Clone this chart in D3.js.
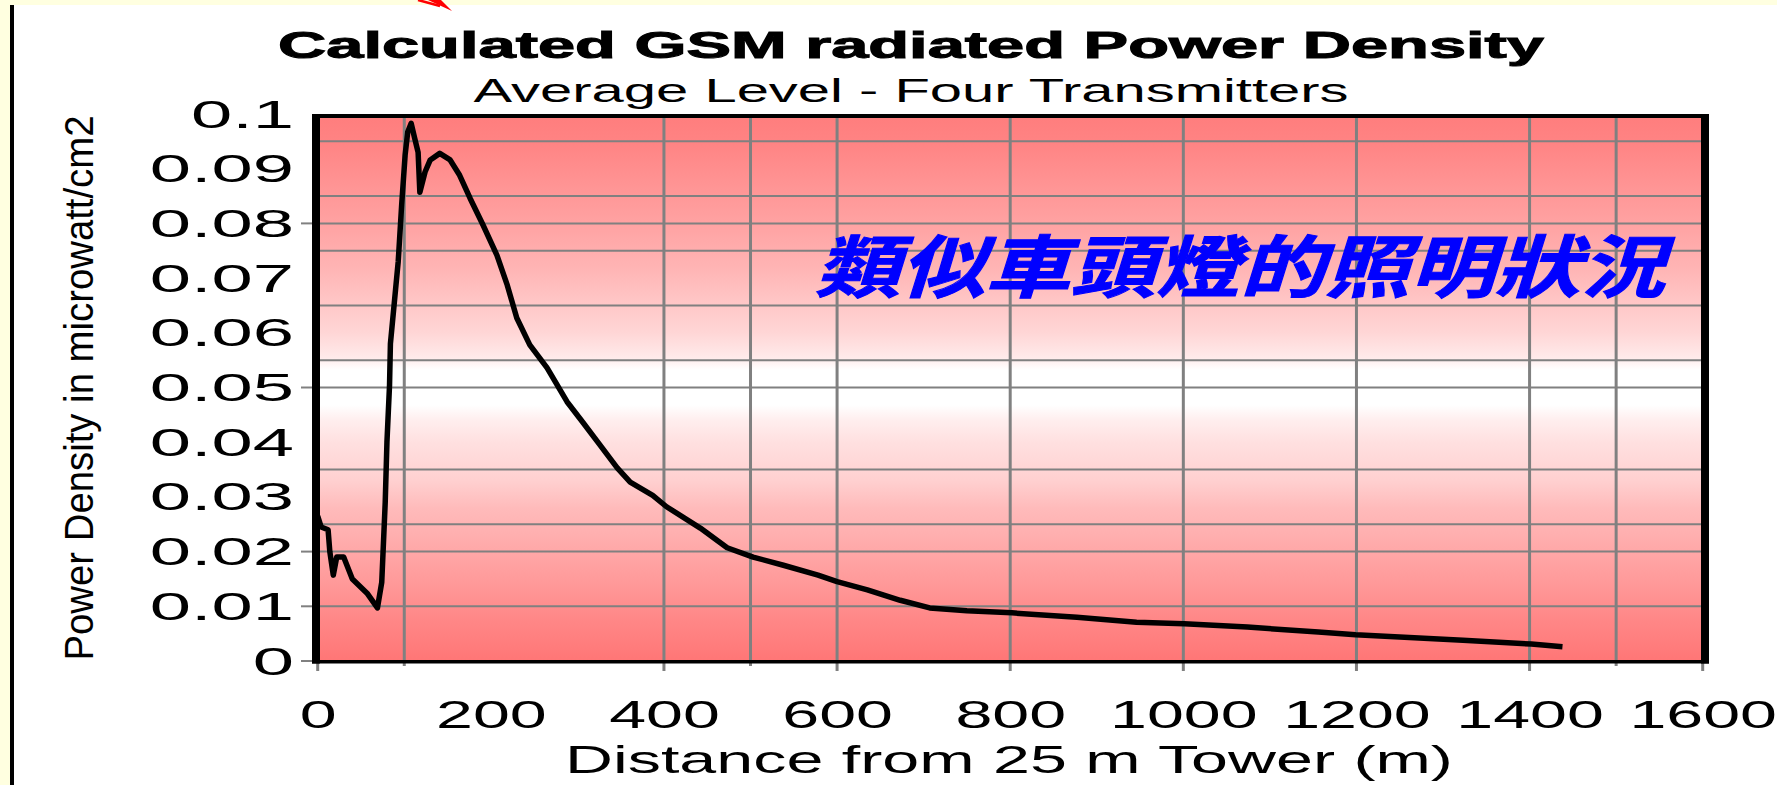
<!DOCTYPE html>
<html><head><meta charset="utf-8">
<script src="https://cdn.jsdelivr.net/npm/d3@7"></script>
<style>html,body{margin:0;padding:0;background:#fff;overflow:hidden}</style>
</head><body><svg id="c" width="1777" height="785"></svg>
<script>
// ---------- data ----------
const distances = [0,4,12,14,18,22,30,40,57,69,74,78,80,83,84,90,93,97,101,104,108,112,116,118,124,130,141,153,164,176,191,207,219,230,245,265,288,306,326,346,361,387,403,442,473,503,538,578,600,635,673,707,750,802,877,946,1001,1074,1156,1199,1323,1402,1438];
const density = [0.0265,0.0245,0.024,0.020,0.0157,0.019,0.019,0.015,0.0124,0.0097,0.0144,0.029,0.040,0.0505,0.058,0.068,0.073,0.0834,0.0925,0.0967,0.0983,0.0956,0.093,0.0857,0.0894,0.0916,0.0928,0.0916,0.0888,0.0846,0.0797,0.0742,0.0687,0.0627,0.0578,0.0536,0.0474,0.0437,0.0395,0.0353,0.0327,0.0303,0.0282,0.0243,0.0207,0.019,0.0175,0.0157,0.0145,0.013,0.0111,0.0097,0.0092,0.0088,0.008,0.0071,0.0068,0.0062,0.0053,0.0048,0.0038,0.0031,0.0026];
const xTicks = [0,200,400,600,800,1000,1200,1400,1600];
const yTicks = [0,0.01,0.02,0.03,0.04,0.05,0.06,0.07,0.08,0.09,0.1];
const yTickLabels = ["0","0.01","0.02","0.03","0.04","0.05","0.06","0.07","0.08","0.09","0.1"];
const xGridValues = [100,400,500,600,800,1000,1200,1400,1500];
const yGridValues = [0.095,0.085,0.08,0.075,0.065,0.055,0.05,0.035,0.025,0.02,0.01];
const xLongTicks = [0,400,600,800,1000,1200,1400,1600];
const xShortTicks = [100,500,1500];
const yLongTicks = [0.08,0.05,0.02,0.01];
const titleText = "Calculated GSM radiated Power Density";
const subtitleText = "Average Level - Four Transmitters";
const xTitleText = "Distance from 25 m Tower (m)";
const yTitleText = "Power Density in microwatt/cm2";
const noteText = "類似車頭燈的照明狀況";

// ---------- layout ----------
const svg = d3.select("#c");
const x = d3.scaleLinear().domain([0,1600]).range([317.7,1702.7]);
const y = d3.scaleLinear().domain([0,0.1]).range([661,114]);
const FONT = "'Liberation Sans', Arial, sans-serif";

// page background
svg.append("rect").attr("width",1777).attr("height",785).attr("fill","#ffffff");
svg.append("rect").attr("x",0).attr("y",0).attr("width",1777).attr("height",5).attr("fill","#ffffe0");
svg.append("rect").attr("x",0).attr("y",0).attr("width",10).attr("height",785).attr("fill","#ffffe0");
svg.append("rect").attr("x",10).attr("y",5).attr("width",4).attr("height",780).attr("fill","#000");
// red arrow fragment at top
svg.append("line").attr("x1",418).attr("y1",0).attr("x2",440).attr("y2",6).attr("stroke","#ff0000").attr("stroke-width",2.5);
svg.append("path").attr("d","M428,0 L452,11 L441,0 Z").attr("fill","#ff0000");

// gradient background of plot
const defs = svg.append("defs");
const grad = defs.append("linearGradient").attr("id","bg").attr("x1",0).attr("y1",0).attr("x2",0).attr("y2",1);
[[0,"#ff7d7d"],[0.05,"#ff8383"],[0.12,"#ff9292"],[0.2,"#ffa2a2"],[0.28,"#ffb4b4"],[0.34,"#ffc5c5"],[0.4,"#ffd6d6"],[0.445,"#ffeaea"],[0.468,"#ffffff"],[0.532,"#ffffff"],[0.56,"#ffeeee"],[0.6,"#ffe0e0"],[0.67,"#ffd0d0"],[0.72,"#ffbbbb"],[0.79,"#ffaaaa"],[0.85,"#ff9b9b"],[0.92,"#ff8888"],[1,"#ff7676"]]
  .forEach(s=>grad.append("stop").attr("offset",s[0]).attr("stop-color",s[1]));
svg.append("rect").attr("x",x(0)).attr("y",y(0.1)).attr("width",x(1600)-x(0)).attr("height",y(0)-y(0.1)).attr("fill","url(#bg)");

// grid lines
const grid = svg.append("g").attr("stroke","#808080");
grid.selectAll("line.h").data(yGridValues).join("line").attr("class","h")
  .attr("x1",x(0)).attr("x2",x(1600)).attr("y1",d=>y(d)).attr("y2",d=>y(d)).attr("stroke-width",2);
grid.selectAll("line.v").data(xGridValues).join("line").attr("class","v")
  .attr("x1",d=>x(d)).attr("x2",d=>x(d)).attr("y1",y(0.1)).attr("y2",y(0)).attr("stroke-width",3);

// tick marks
grid.selectAll("line.yl").data(yLongTicks).join("line").attr("class","yl")
  .attr("x1",301).attr("x2",x(0)).attr("y1",d=>y(d)).attr("y2",d=>y(d)).attr("stroke-width",2);
grid.append("line").attr("x1",301).attr("x2",331).attr("y1",y(0)).attr("y2",y(0)).attr("stroke-width",2);
grid.selectAll("line.xl").data(xLongTicks).join("line").attr("class","xl")
  .attr("x1",d=>x(d)).attr("x2",d=>x(d)).attr("y1",d=>d===0||d===1600?653:y(0)).attr("y2",671).attr("stroke-width",3);
grid.selectAll("line.xs").data(xShortTicks).join("line").attr("class","xs")
  .attr("x1",d=>x(d)).attr("x2",d=>x(d)).attr("y1",y(0)).attr("y2",666).attr("stroke-width",3);

// Chinese annotation
svg.append("text").attr("x",1240).attr("y",292).attr("text-anchor","middle")
  .attr("font-family","'Noto Sans CJK TC','Noto Sans CJK SC',sans-serif").attr("font-weight","bold").attr("font-style","italic")
  .attr("font-size",68).attr("fill","#0000ff").attr("stroke","#0000ff").attr("stroke-width",1)
  .attr("textLength",850).attr("lengthAdjust","spacingAndGlyphs").text(noteText);

// curve
const pts = distances.map((d,i)=>[d,density[i]]);
svg.append("path").datum(pts)
  .attr("d",d3.line().x(d=>x(d[0])).y(d=>y(d[1])))
  .attr("fill","none").attr("stroke","#000").attr("stroke-width",5.5).attr("stroke-linejoin","round");

// plot frame
svg.append("line").attr("x1",312).attr("x2",1709).attr("y1",116).attr("y2",116).attr("stroke","#000").attr("stroke-width",4);
svg.append("line").attr("x1",312).attr("x2",1709).attr("y1",661.7).attr("y2",661.7).attr("stroke","#000").attr("stroke-width",3.5);
svg.append("line").attr("x1",316).attr("x2",316).attr("y1",114).attr("y2",663.5).attr("stroke","#000").attr("stroke-width",8);
svg.append("line").attr("x1",1705).attr("x2",1705).attr("y1",114).attr("y2",663.5).attr("stroke","#000").attr("stroke-width",8);

// axes (labels)
const xAxis = svg.append("g").attr("transform","translate(0,661)")
  .call(d3.axisBottom(x).tickValues(xTicks).tickSize(0).tickFormat(d3.format("d")));
xAxis.select(".domain").remove();
xAxis.selectAll("text").attr("y",67).attr("dy",null).attr("font-family",FONT).attr("font-size",39).attr("fill","#000")
  .each(function(){ const w=this.getComputedTextLength(); d3.select(this).attr("textLength",w*1.7).attr("lengthAdjust","spacingAndGlyphs"); });

const yAxis = svg.append("g").attr("transform","translate(294,0)")
  .call(d3.axisLeft(y).tickValues(yTicks).tickSize(0).tickFormat((d,i)=>yTickLabels[i]));
yAxis.select(".domain").remove();
yAxis.selectAll("text").attr("x",0).attr("dy",null).attr("dominant-baseline","central").attr("text-anchor","end")
  .attr("font-family",FONT).attr("font-size",38).attr("fill","#000")
  .each(function(){ const w=this.getComputedTextLength(); d3.select(this).attr("textLength",w*1.95).attr("lengthAdjust","spacingAndGlyphs"); });

// titles
svg.append("text").attr("x",911).attr("y",58).attr("text-anchor","middle").attr("font-family",FONT)
  .attr("font-weight","bold").attr("font-size",37).attr("stroke","#000").attr("stroke-width",1)
  .attr("textLength",1266).attr("lengthAdjust","spacingAndGlyphs").text(titleText);
svg.append("text").attr("x",911).attr("y",102).attr("text-anchor","middle").attr("font-family",FONT)
  .attr("font-size",33).attr("textLength",875).attr("lengthAdjust","spacingAndGlyphs").text(subtitleText);
svg.append("text").attr("x",1009).attr("y",773).attr("text-anchor","middle").attr("font-family",FONT)
  .attr("font-size",39).attr("textLength",888).attr("lengthAdjust","spacingAndGlyphs").text(xTitleText);
svg.append("text").attr("transform","translate(93,388) rotate(-90)").attr("text-anchor","middle").attr("font-family",FONT)
  .attr("font-size",40).attr("textLength",545).attr("lengthAdjust","spacingAndGlyphs").text(yTitleText);
</script></body></html>
